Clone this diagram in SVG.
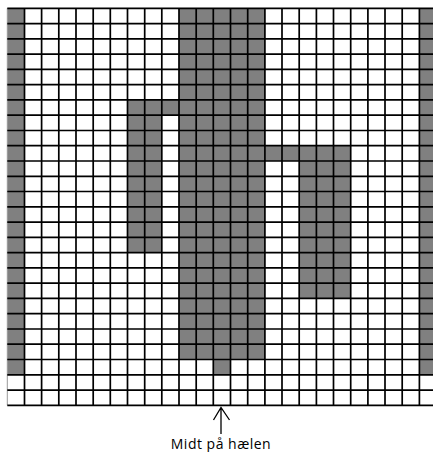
<svg xmlns="http://www.w3.org/2000/svg" width="433" height="452" viewBox="0 0 433 452">
<style>
.g{fill:#808080}
.ln{stroke:#000;stroke-width:1.7;fill:none}
.lbl{font-family:"Open Sans","Liberation Sans",sans-serif;font-size:14px;letter-spacing:0.5px;fill:#000}
</style>
<rect width="433" height="452" fill="#fff"/>
<g id="fills">
<rect class="g" x="7.3" y="8.3" width="17.2" height="366.5"/>
<rect class="g" x="419.4" y="8.3" width="17.2" height="366.5"/>
<rect class="g" x="179" y="8.3" width="85.9" height="351.2"/>
<rect class="g" x="213.3" y="359.5" width="17.2" height="15.3"/>
<rect class="g" x="127.5" y="99.9" width="51.5" height="15.3"/>
<rect class="g" x="127.5" y="115.2" width="34.3" height="137.4"/>
<rect class="g" x="264.9" y="145.7" width="85.8" height="15.3"/>
<rect class="g" x="299.2" y="161" width="51.5" height="137.4"/>
</g>
<g id="grid">
<line x1="7.3" y1="8.3" x2="7.3" y2="405.3" stroke="#999" stroke-width="1"/>
<path class="ln" d="M24.5 8.3V405.3M41.6 8.3V405.3M58.8 8.3V405.3M76 8.3V405.3M93.2 8.3V405.3M110.3 8.3V405.3M127.5 8.3V405.3M144.7 8.3V405.3M161.8 8.3V405.3M179 8.3V405.3M196.2 8.3V405.3M213.3 8.3V405.3M230.5 8.3V405.3M247.7 8.3V405.3M264.9 8.3V405.3M282 8.3V405.3M299.2 8.3V405.3M316.4 8.3V405.3M333.5 8.3V405.3M350.7 8.3V405.3M367.9 8.3V405.3M385 8.3V405.3M402.2 8.3V405.3M419.4 8.3V405.3"/>
<path class="ln" d="M7.3 8.3H433M7.3 23.6H433M7.3 38.8H433M7.3 54.1H433M7.3 69.4H433M7.3 84.7H433M7.3 99.9H433M7.3 115.2H433M7.3 130.5H433M7.3 145.7H433M7.3 161H433M7.3 176.3H433M7.3 191.5H433M7.3 206.8H433M7.3 222.1H433M7.3 237.4H433M7.3 252.6H433M7.3 267.9H433M7.3 283.2H433M7.3 298.4H433M7.3 313.7H433M7.3 329H433M7.3 344.2H433M7.3 359.5H433M7.3 374.8H433M7.3 390.1H433M7.3 405.3H433"/>
</g>
<g id="connectors">
<path d="M221 434V408M213.5 420L221 407.5L229.5 420" stroke="#000" stroke-width="1.3" fill="none"/>
</g>
<g id="label">
<text class="lbl" x="221" y="449" text-anchor="middle">Midt på hælen</text>
</g>
</svg>
